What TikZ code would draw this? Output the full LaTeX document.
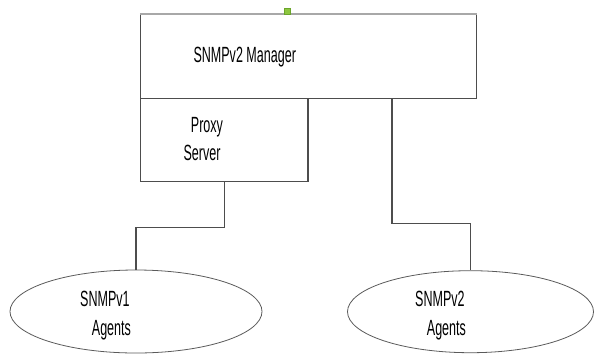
\documentclass[tikz,border=0pt]{standalone}
\usepackage{fontspec}
\usetikzlibrary{shapes.geometric}
\newfontfamily\labfont[FakeStretch=0.57]{Liberation Sans}
\definecolor{linegray}{HTML}{4D4D4D}
\definecolor{topgray}{HTML}{A8A8A8}
\definecolor{ellgray}{HTML}{5A5A5A}
\definecolor{handlefill}{HTML}{8DC63F}
\definecolor{handledraw}{HTML}{6BA52B}
\begin{document}
\begin{tikzpicture}[x=1pt,y=-1pt,
  boxnode/.style={draw=linegray,line width=1.2pt,rectangle,inner sep=0pt},
  agentnode/.style={draw=ellgray,line width=0.8pt,ellipse,inner sep=0pt},
  lab/.style={anchor=base west,inner sep=0pt,font=\labfont\fontsize{22}{24}\selectfont,text=black},
  conn/.style={draw=linegray,line width=1.2pt}]
\useasboundingbox (0,0) rectangle (594,354);
% boxes
\node[boxnode,minimum width=336.2pt,minimum height=84pt] (manager) at (308.6,56.5) {};
\draw[topgray,line width=1.6pt] (manager.north west) -- (manager.north east);
\node[boxnode,minimum width=167.5pt,minimum height=83.2pt] (proxy) at (224.25,140.1) {};
% ellipses
\node[agentnode,minimum width=252pt,minimum height=83pt] (a1) at (136,311.5) {};
\node[agentnode,minimum width=246pt,minimum height=82pt] (a2) at (470.5,311.7) {};
% handle
\node[fill=handlefill,draw=handledraw,line width=0.4pt,minimum size=5.5pt,inner sep=0pt] (handle) at (287.2,11.2) {};
% texts
\node[lab] (tmanager) at (193.3,62.7) {SNMPv2 Manager};
\node[lab] (tproxy) at (190.7,132.3) {Proxy};
\node[lab] (tserver) at (183.3,160) {Server};
\node[lab] (tv1) at (80,306.7) {SNMPv1};
\node[lab] (tag1) at (91.7,335) {Agents};
\node[lab] (tv2) at (415,306.7) {SNMPv2};
\node[lab] (tag2) at (426.7,335) {Agents};
% connectors
\draw[conn] (proxy.south) -- ++(0,45) -| (a1.north);
\draw[conn] (manager.south west) ++(252,0) -- ++(0,124.5) -| (a2.north);
\end{tikzpicture}
\end{document}
